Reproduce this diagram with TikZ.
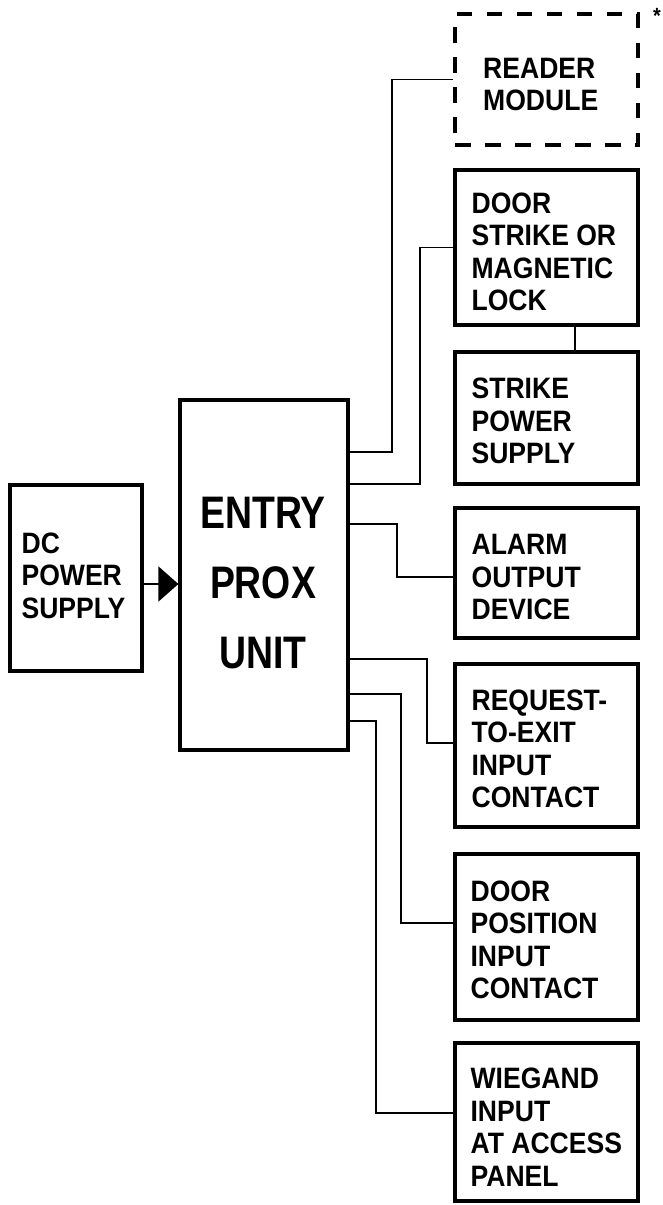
\documentclass[tikz,border=0pt]{standalone}
\usepackage{fontspec}
\setmainfont{Liberation Sans}[FakeStretch=0.9]
\newfontfamily\entryfont{Liberation Sans}[FakeStretch=0.82]
\usetikzlibrary{arrows.meta}
\begin{document}
\begin{tikzpicture}[x=1pt,y=-1pt,
  box/.style={draw, line width=3.2pt, rectangle, inner sep=0, minimum width=183pt},
  dbox/.style={draw, line width=4pt, rectangle, inner sep=0, minimum width=183pt, dash pattern=on 15.5pt off 14.5pt, dash phase=0pt},
  lbl/.style={font=\fontsize{29.5}{32.5}\selectfont\bfseries, align=left, inner sep=0, anchor=west},
  wire/.style={draw, line width=1.4pt}
]
\useasboundingbox (0,0) rectangle (662,1205);
% boxes
\node[dbox, minimum height=131pt] (reader) at (546.5,79.5) {};
\node[box, minimum height=155pt] (door) at (546.5,247.5) {};
\node[box, minimum height=132pt] (strike) at (546.5,418) {};
\node[box, minimum height=130pt] (alarm) at (546.5,573) {};
\node[box, minimum height=163pt] (rex) at (546.5,745.5) {};
\node[box, minimum height=166pt] (dpos) at (546.5,937) {};
\node[box, minimum height=158pt] (wieg) at (546.5,1122) {};
\node[box, minimum width=132pt, minimum height=186pt] (dc) at (76,578) {};
\node[box, minimum width=168pt, minimum height=350pt] (entry) at (264,575) {};
% labels
\node[lbl] (readerT) at ([xshift=30pt,yshift=-5pt]reader.west) {READER\\MODULE};
\node[lbl] (doorT) at ([xshift=18pt,yshift=-4.5pt]door.west) {DOOR\\STRIKE OR\\MAGNETIC\\LOCK};
\node[lbl] (strikeT) at ([xshift=18pt,yshift=-3pt]strike.west) {STRIKE\\POWER\\SUPPLY};
\node[lbl] (alarmT) at ([xshift=18pt,yshift=-4pt]alarm.west) {ALARM\\OUTPUT\\DEVICE};
\node[lbl] (rexT) at ([xshift=18pt,yshift=-3.5pt]rex.west) {REQUEST-\\TO-EXIT\\INPUT\\CONTACT};
\node[lbl] (dposT) at ([xshift=17pt,yshift=-3pt]dpos.west) {DOOR\\POSITION\\INPUT\\CONTACT};
\node[lbl] (wiegT) at ([xshift=17pt,yshift=-5pt]wieg.west) {WIEGAND\\INPUT\\AT ACCESS\\PANEL};
\node[lbl] (dcT) at ([xshift=13pt,yshift=2.5pt]dc.west) {DC\\POWER\\SUPPLY};
\node[font=\entryfont\fontsize{45.6}{70}\selectfont\bfseries, align=center, inner sep=0] (entryT) at ([xshift=-1pt,yshift=-8.5pt]entry.center) {ENTRY\\PROX\\UNIT};
\node[font=\fontsize{22}{22}\selectfont\bfseries, inner sep=0] (star) at (657,16) {*};
% connectors
\draw[wire] (entry.east |- 0,452) -| (392,79.5) -- (reader.west);
\draw[wire] (entry.east |- 0,484) -| (420,247.5) -- (door.west);
\draw[wire] (door.south -| 575,0) -- (strike.north -| 575,0);
\draw[wire] (entry.east |- 0,524) -| (397,577) -- (alarm.west |- 0,577);
\draw[wire] (entry.east |- 0,659) -| (427,743) -- (rex.west |- 0,743);
\draw[wire] (entry.east |- 0,694) -| (401,923) -- (dpos.west |- 0,923);
\draw[wire] (entry.east |- 0,721) -| (376,1113) -- (wieg.west |- 0,1113);
\draw[wire, -{Triangle[length=20pt,width=35pt]}] (dc.east |- 0,584) -- (entry.west |- 0,584);
\end{tikzpicture}
\end{document}
